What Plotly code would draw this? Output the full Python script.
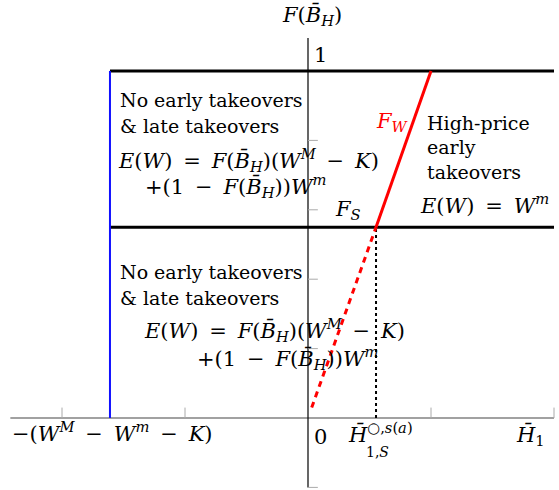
import plotly.graph_objects as go

# ---- data (chart units) ----
x_ticks = [-2, -1, 1, 2]
y_ticks = [-0.2, 0.2, 0.4, 0.6, 0.8]
x_axis_span = [-2.42, 2.0]
y_axis_span = [-0.2, 1.095]
blue_x = -1.61          # -(W^M - W^m - K)
F_top = 1.0
F_S = 0.55
H_S = 0.553
FW_x = [H_S, 1.0]
FW_y = [F_S, 1.0]
FS_dash_x = [0.03, H_S]
FS_dash_y = [0.03, F_S]
region_right = 2.0

# pixel -> data helpers (for text placement only)
def dx(px):
    return (px - 308) / 123.0

def dy(py):
    return (418 - py) / 347.0

FONT = "DejaVu Serif"
TS = 19   # text size
MS = 21   # math size

fig = go.Figure()

# axes
fig.add_trace(go.Scatter(x=x_axis_span, y=[0, 0], mode="lines",
                         line=dict(color="#444444", width=1.2), hoverinfo="skip"))
fig.add_trace(go.Scatter(x=[0, 0], y=y_axis_span, mode="lines",
                         line=dict(color="black", width=1.2), hoverinfo="skip"))
# ticks
for t in x_ticks:
    fig.add_trace(go.Scatter(x=[t, t], y=[0, 0.03], mode="lines",
                             line=dict(color="#aaaaaa", width=1), hoverinfo="skip"))
for t in y_ticks:
    fig.add_trace(go.Scatter(x=[0, 0.08], y=[t, t], mode="lines",
                             line=dict(color="#aaaaaa", width=1), hoverinfo="skip"))

# thick horizontal lines
for yv in [F_top, F_S]:
    fig.add_trace(go.Scatter(x=[blue_x, region_right], y=[yv, yv], mode="lines",
                             line=dict(color="black", width=3), hoverinfo="skip"))
# blue vertical
fig.add_trace(go.Scatter(x=[blue_x, blue_x], y=[0, F_top], mode="lines",
                         line=dict(color="#1010ff", width=2), hoverinfo="skip"))
# dotted vertical
fig.add_trace(go.Scatter(x=[H_S, H_S], y=[0, F_S], mode="lines",
                         line=dict(color="black", width=2, dash="dot"), hoverinfo="skip"))
# red dashed
fig.add_trace(go.Scatter(x=FS_dash_x, y=FS_dash_y, mode="lines",
                         line=dict(color="red", width=3, dash="6px,5px"), hoverinfo="skip"))
# red solid F_W
fig.add_trace(go.Scatter(x=FW_x, y=FW_y, mode="lines",
                         line=dict(color="red", width=3), hoverinfo="skip"))

def txt(px, py, s, anchor="left", color="black", size=TS):
    fig.add_annotation(x=dx(px), y=dy(py), xref="x", yref="y", text=s,
                       showarrow=False, xanchor=anchor, yanchor="middle",
                       font=dict(family=FONT, size=size, color=color), align="left")

SP = "\u2009"
FB = "<i>F</i>(<i>B̄</i><sub><i>H</i></sub>)"
EW = "<i>E</i>(<i>W</i>)"
EQ = SP + " = " + SP
MI = SP + " − " + SP

txt(312, 15, FB, anchor="center", size=MS)
txt(320, 55, "1", anchor="center", size=MS)

# upper block
txt(118, 100, "No early takeovers")
txt(118, 126, "&amp; late takeovers")
txt(116, 160, EW + EQ + FB + "(<i>W</i><sup><i>M</i></sup>" + MI + "<i>K</i>)", size=MS)
txt(143, 186, "+(1" + MI + FB + ")<i>W</i><sup><i>m</i></sup>", size=MS)

# F_W
txt(392, 122, "<i>F</i><sub><i>W</i></sub>", anchor="center", color="red", size=MS)
txt(425, 123, "High-price")
txt(425, 147, "early")
txt(425, 172, "takeovers")
txt(418, 204, EW + EQ + "<i>W</i><sup><i>m</i></sup>", size=MS)
txt(333, 210, "<i>F</i><sub><i>S</i></sub>", size=MS)

# lower block
txt(118, 272, "No early takeovers")
txt(118, 298, "&amp; late takeovers")
txt(142, 330, EW + EQ + FB + "(<i>W</i><sup><i>M</i></sup>" + MI + "<i>K</i>)", size=MS)
txt(195, 358, "+(1" + MI + FB + ")<i>W</i><sup><i>m</i></sup>", size=MS)

# x-axis labels
txt(10, 432, "−(<i>W</i><sup><i>M</i></sup>" + MI + "<i>W</i><sup><i>m</i></sup>" + MI + "<i>K</i>)", size=MS)
txt(320, 437, "0", anchor="center", size=MS)
txt(346, 433, "<i>H̄</i><sup>○,<i>s</i>(<i>a</i>)</sup>", size=MS)
txt(364, 452, "1,<i>S</i>", size=14)
txt(530, 435, "<i>H̄</i><sub>1</sub>", anchor="center", size=MS)

fig.update_layout(
    width=559, height=490,
    margin=dict(l=0, r=0, t=0, b=0),
    paper_bgcolor="white", plot_bgcolor="white",
    showlegend=False,
    xaxis=dict(range=[dx(0), dx(559)], visible=False, fixedrange=True),
    yaxis=dict(range=[dy(490), dy(0)], visible=False, fixedrange=True),
)

fig.write_html("out.html",
               config={"displayModeBar": False},
               post_script="document.body.style.margin='0';document.body.style.overflow='hidden';")
